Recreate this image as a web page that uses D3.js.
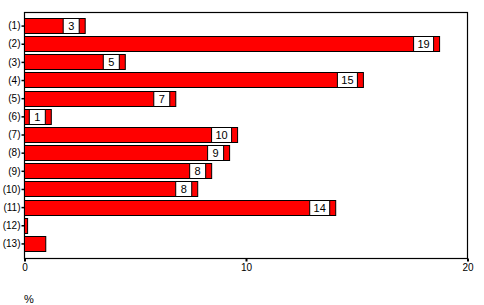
<!DOCTYPE html>
<html>
<head>
<meta charset="utf-8">
<script src="https://cdn.jsdelivr.net/npm/d3@7"></script>
<style>
  body { margin: 0; background: #fff; }
  text { font-family: "Liberation Sans", Arial, sans-serif; }
</style>
</head>
<body>
<div id="chart"></div>
<script>
// Row labels and percentages
const categories = ["(1)", "(2)", "(3)", "(4)", "(5)", "(6)", "(7)", "(8)", "(9)", "(10)", "(11)", "(12)", "(13)"];
const values = [2.74, 18.74, 4.55, 15.3, 6.83, 1.21, 9.62, 9.26, 8.45, 7.82, 14.05, 0.14, 0.96];
// Numbers shown in the white boxes (null = no box)
const boxLabels = [3, 19, 5, 15, 7, 1, 10, 9, 8, 8, 14, null, null];
const xTicks = [0, 10, 20];

const width = 484, height = 305;
const plot = {left: 24.5, right: 467.5, top: 12.5, bottom: 258.5};

let data = categories.map((c, i) => ({cat: c, value: values[i], label: boxLabels[i]}));

let svg = d3.select("#chart")
    .append("svg")
    .attr("width", width)
    .attr("height", height);

// Scales
let x = d3.scaleLinear()
    .domain([0, 20])
    .range([plot.left, plot.right]);

let y = d3.scaleBand()
    .domain(categories)
    .range([18, 252])
    .paddingInner(0.11)
    .paddingOuter(0);

// Plot frame
svg.append("rect")
    .attr("x", plot.left)
    .attr("y", plot.top)
    .attr("width", plot.right - plot.left)
    .attr("height", plot.bottom - plot.top)
    .attr("fill", "none")
    .attr("stroke", "#000")
    .attr("stroke-width", 1.2);

// Bars
svg.selectAll("rect.bar")
    .data(data)
    .enter()
    .append("rect")
    .attr("class", "bar")
    .attr("x", x(0))
    .attr("y", d => Math.round(y(d.cat)) + 0.5)
    .attr("width", d => x(d.value) - x(0))
    .attr("height", Math.round(y.bandwidth()) - 1)
    .attr("fill", "#ff0000")
    .attr("stroke", "#000")
    .attr("stroke-width", 1);

// Value boxes
let boxes = svg.selectAll("g.box")
    .data(data.filter(d => d.label !== null))
    .enter()
    .append("g")
    .attr("class", "box");

boxes.append("rect")
    .attr("x", d => x(d.value) - 6 - (d.label >= 10 ? 20 : 16))
    .attr("y", d => Math.round(y(d.cat)) + 0.5)
    .attr("width", d => d.label >= 10 ? 20 : 16)
    .attr("height", Math.round(y.bandwidth()) - 1)
    .attr("fill", "#fff")
    .attr("stroke", "#000")
    .attr("stroke-width", 1);

boxes.append("text")
    .attr("x", d => x(d.value) - 6 - (d.label >= 10 ? 10 : 8))
    .attr("y", d => Math.round(y(d.cat)) + y.bandwidth() / 2 + 4)
    .attr("text-anchor", "middle")
    .style("font-size", "11px")
    .text(d => d.label);

// Y axis
let yAxis = svg.append("g")
    .attr("transform", `translate(${plot.left}, 0)`)
    .call(d3.axisLeft(y).tickSize(3).tickPadding(1));
yAxis.select(".domain").remove();
yAxis.selectAll("line").attr("stroke", "#000").attr("stroke-width", 1.5);
yAxis.selectAll("text")
    .style("font-family", "'Liberation Sans', Arial, sans-serif")
    .style("font-size", "10px")
    .attr("fill", "#000");

// X axis
let xAxis = svg.append("g")
    .attr("transform", `translate(0, ${plot.bottom})`)
    .call(d3.axisBottom(x).tickValues(xTicks).tickSize(3).tickPadding(2).tickFormat(d3.format("d")));
xAxis.select(".domain").remove();
xAxis.selectAll("line").attr("stroke", "#000").attr("stroke-width", 2);
xAxis.selectAll("text")
    .style("font-family", "'Liberation Sans', Arial, sans-serif")
    .style("font-size", "10px")
    .attr("fill", "#000");

// Unit label
svg.append("text")
    .attr("x", 24)
    .attr("y", 303)
    .style("font-size", "11px")
    .text("%");
</script>
</body>
</html>
